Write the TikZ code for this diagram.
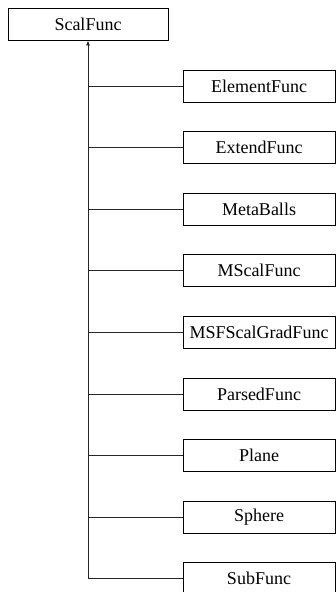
\documentclass[tikz,border=0pt]{standalone}
\usepackage{fontspec}
\setmainfont{Liberation Serif}
\usetikzlibrary{arrows.meta}
\begin{document}
\begin{tikzpicture}[x=1pt,y=-1pt,
  cls/.style={draw=black, line width=0.9pt, fill=white, inner sep=0pt,
    minimum height=32pt, font=\fontsize{18}{20}\selectfont},
  base/.style={cls, minimum width=160pt},
  sub/.style={cls, minimum width=152pt},
  edge/.style={draw=black!85, line width=0.8pt}]
\useasboundingbox (0,0) rectangle (336,592);
\node[base] (top) at (88,24) {ScalFunc};
\node[sub] (c1) at (259,86) {ElementFunc};
\node[sub] (c2) at (259,147.6) {ExtendFunc};
\node[sub] (c3) at (259,209.2) {MetaBalls};
\node[sub] (c4) at (259,270.8) {MScalFunc};
\node[sub] (c5) at (259,332.4) {MSFScalGradFunc};
\node[sub] (c6) at (259,394) {ParsedFunc};
\node[sub] (c7) at (259,455.6) {Plane};
\node[sub] (c8) at (259,517.2) {Sphere};
\node[sub] (c9) at (259,578.8) {SubFunc};
\draw[edge, -{Latex[length=5pt,width=4pt]}] (c9.west) -| (top.south);
\foreach \n in {c1,c2,c3,c4,c5,c6,c7,c8}
  \draw[edge] (\n.west) -- (\n.west -| top.south);
\end{tikzpicture}
\end{document}
